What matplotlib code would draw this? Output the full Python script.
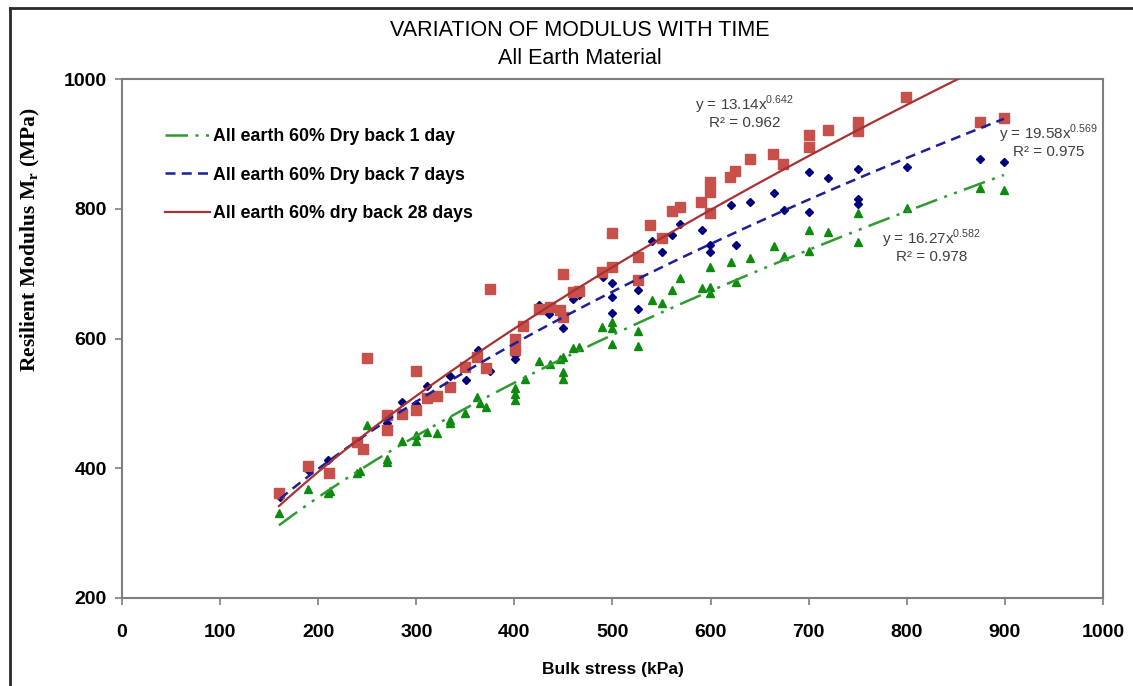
import numpy as np
import matplotlib
matplotlib.use('Agg')
import matplotlib.pyplot as plt
from matplotlib.lines import Line2D

# ---- data ----
# 1 day (green triangles)
x_1d = [160, 190, 210, 212, 240, 243, 250, 270, 270, 285, 300, 300, 311, 321, 334, 334,
        350, 362, 365, 371, 401, 401, 401, 411, 425, 436, 446, 450, 450, 450, 460, 466,
        489, 500, 500, 500, 526, 526, 540, 550, 561, 569, 591, 599, 599, 599, 621, 626,
        640, 665, 675, 700, 700, 720, 750, 750, 800, 875, 899]
y_1d = [331, 368, 362, 365, 393, 395, 467, 414, 410, 442, 451, 442, 456, 455, 474, 470,
        485, 510, 500, 494, 524, 514, 505, 537, 565, 560, 568, 548, 537, 571, 585, 587,
        618, 625, 616, 591, 612, 588, 659, 655, 675, 693, 678, 710, 679, 670, 718, 687,
        724, 742, 727, 767, 735, 764, 793, 748, 801, 832, 829]

# 7 days (blue diamonds)
x_7d = [161, 191, 210, 240, 270, 285, 300, 311, 334, 351, 363, 375, 401, 401, 425, 435,
        450, 450, 460, 466, 490, 500, 500, 500, 526, 526, 540, 550, 561, 569, 591, 599,
        599, 621, 626, 640, 665, 675, 700, 700, 720, 750, 750, 750, 800, 875, 899]
y_7d = [356, 395, 413, 440, 470, 502, 499, 527, 542, 536, 582, 550, 568, 575, 651, 638,
        616, 633, 661, 667, 695, 685, 664, 639, 675, 645, 750, 733, 759, 776, 767, 744,
        733, 806, 744, 810, 824, 798, 857, 795, 847, 861, 815, 807, 864, 876, 872]

# 28 days (red squares)
x_28d = [160, 190, 211, 240, 246, 250, 270, 270, 285, 300, 300, 311, 321, 334, 350, 362,
         371, 375, 401, 401, 409, 425, 436, 446, 450, 450, 460, 466, 489, 500, 500, 526,
         526, 538, 550, 561, 569, 590, 599, 599, 599, 620, 625, 640, 664, 674, 700, 700,
         720, 750, 750, 799, 875, 899]
y_28d = [362, 404, 393, 440, 429, 570, 482, 459, 484, 490, 550, 508, 512, 525, 556, 571,
         554, 676, 600, 582, 619, 645, 648, 644, 633, 699, 672, 674, 703, 710, 762, 725,
         690, 775, 755, 797, 803, 810, 841, 826, 793, 849, 858, 876, 885, 869, 913, 895,
         922, 933, 920, 972, 933, 940]

# power trendlines printed on the chart: y = a * x^b
fits = {
    '1d': (16.27, 0.582, '0.978'),
    '7d': (19.58, 0.569, '0.975'),
    '28d': (13.14, 0.642, '0.962'),
}

labels = ['All earth 60% Dry back 1 day', 'All earth 60% Dry back 7 days',
          'All earth 60% dry back 28 days']

plt.rcParams['font.family'] = ['Liberation Sans', 'DejaVu Sans']

fig = plt.figure(figsize=(11.33, 6.86), dpi=100)
ax = fig.add_axes([0.1077, 0.1283, 0.8658, 0.7565])

green_pt, green_ln = '#0E8A0E', '#2F9A2F'
blue_pt, blue_ln = '#00007F', '#1E1E96'
red_pt, red_ln = '#C8504B', '#A83232'

ax.plot(x_1d, y_1d, '^', color=green_pt, markersize=6, zorder=3)
ax.plot(x_7d, y_7d, 'D', color=blue_pt, markersize=4.4, zorder=3)
ax.plot(x_28d, y_28d, 's', color=red_pt, markersize=6.5, zorder=3)

# trendlines over each series' data range
styles = {
    '1d': dict(color=green_ln, lw=1.8, linestyle=(0, (9, 3, 1.2, 3, 1.2, 3))),
    '7d': dict(color=blue_ln, lw=1.8, linestyle=(0, (4, 2.5))),
    '28d': dict(color=red_ln, lw=1.6, linestyle='-'),
}
for key, xs in (('1d', x_1d), ('7d', x_7d), ('28d', x_28d)):
    a, b, r2 = fits[key]
    xx = np.linspace(min(xs), max(xs), 200)
    ax.plot(xx, a * xx ** b, zorder=4, **styles[key])

# equation labels
eq_pos = {'28d': (635, 950), '7d': (945, 904), '1d': (825, 743)}
for key, (ex, ey) in eq_pos.items():
    a, b, r2 = fits[key]
    txt = 'y = %.2fx$^{\\mathregular{%.3f}}$\nR² = %s' % (a, b, r2)
    ax.text(ex, ey, txt, ha='center', va='center', fontsize=11, color='#404040',
            linespacing=1.0, zorder=5)

ax.set_xlim(0, 1000)
ax.set_ylim(200, 1000)
ax.set_xticks(np.arange(0, 1001, 100))
ax.set_yticks(np.arange(200, 1001, 200))
for s in ax.spines.values():
    s.set_color('#7F7F7F')
    s.set_linewidth(1.5)
ax.tick_params(direction='out', length=5, width=1.2, color='#7F7F7F', pad=6)
for lab in ax.get_xticklabels() + ax.get_yticklabels():
    lab.set_fontsize(14)
    lab.set_fontweight('bold')
ax.tick_params(axis='x', pad=14)

ax.set_xlabel('Bulk stress (kPa)', fontsize=12.5, fontweight='bold', labelpad=15)
ax.text(-0.093, 0.69, 'Resilient Modulus M$_\\mathregular{r}$ (MPa)', transform=ax.transAxes,
        rotation=90, ha='center', va='center', fontsize=15.5, fontweight='bold',
        family=['Liberation Serif', 'DejaVu Serif'])

fig.text(0.512, 0.955, 'VARIATION OF MODULUS WITH TIME', ha='center', va='center',
         fontsize=15.5)
fig.text(0.512, 0.915, 'All Earth Material', ha='center', va='center',
         fontsize=15.5)

handles = [Line2D([], [], **styles['1d']), Line2D([], [], **styles['7d']),
           Line2D([], [], **styles['28d'])]
leg = ax.legend(handles, labels, loc='upper left', bbox_to_anchor=(0.044, 0.905),
                frameon=False, borderaxespad=0, borderpad=0, handlelength=2.5,
                handletextpad=0.2, labelspacing=1.2,
                prop={'size': 12.8, 'weight': 'bold'})

# outer frame of the picture (left and top edges visible)
fig.add_artist(Line2D([0.009, 0.009], [0, 0.988], color='#2A2A2A', lw=2))
fig.add_artist(Line2D([0.009, 1.0], [0.988, 0.988], color='#2A2A2A', lw=2))

fig.savefig('out.png', dpi=100)
